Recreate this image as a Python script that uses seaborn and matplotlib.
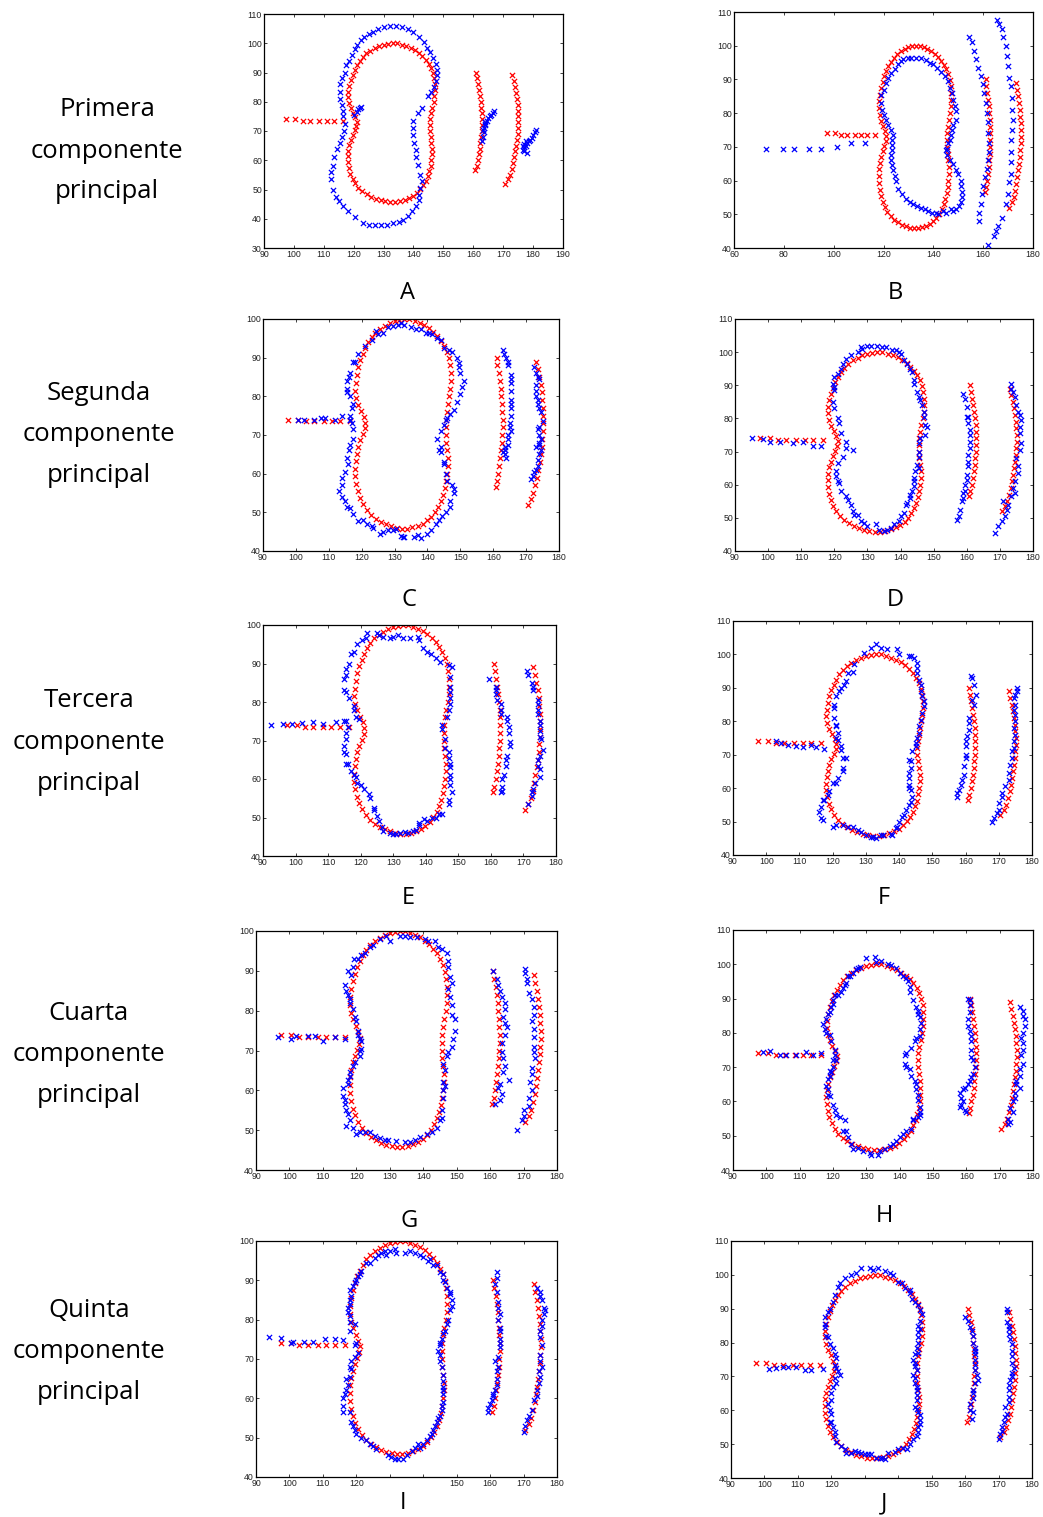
import matplotlib
matplotlib.use('Agg')
import matplotlib.pyplot as plt
import seaborn as sns
import pandas as pd

# ---------------- data ----------------
red_tail = [(97.5, 74), (100.5, 74), (103, 73.5), (105.5, 73.5), (108.5, 73.5), (111, 73.5), (113.5, 73.5), (116.5, 73.5)]

red_kidney = [(134.5, 100), (133, 100), (131.5, 99.8), (130, 99.5), (128.5, 99), (127, 98.3), (125.5, 97.5),
              (124.2, 96.5), (123, 95.3), (122, 94), (121.1, 92.5), (120.3, 91), (119.6, 89.3), (119, 87.5),
              (118.5, 85.5), (118.2, 83.5), (118.1, 81.5), (118.4, 79.5), (119, 77.8), (119.8, 76.2),
              (120.6, 74.7), (121.1, 73.2), (120.9, 71.7), (120.3, 70.2), (119.6, 68.7), (119, 67),
              (118.5, 65.2), (118.2, 63.3), (118, 61.3), (118.1, 59.3), (118.4, 57.3), (118.9, 55.4),
              (119.6, 53.7), (120.5, 52.1), (121.6, 50.6), (122.9, 49.4), (124.3, 48.4), (125.8, 47.6),
              (127.4, 46.9), (129, 46.4), (130.6, 46), (132.2, 45.8), (133.8, 45.8), (135.4, 46.1),
              (137, 46.5), (138.5, 47.1), (139.9, 47.9), (141.2, 48.9), (142.3, 50.1), (143.3, 51.5),
              (144.1, 53), (144.8, 54.6), (145.3, 56.3), (145.7, 58.1), (146, 60), (146.2, 62), (146.2, 64),
              (146, 66), (145.7, 68), (145.5, 70), (145.5, 72), (145.6, 74), (145.9, 76), (146.3, 78),
              (146.7, 80), (147, 82), (147.1, 84), (147.1, 86), (146.9, 88), (146.5, 89.8), (145.9, 91.5),
              (145.1, 93), (144.1, 94.4), (143, 95.6), (141.8, 96.7), (140.5, 97.6), (139.1, 98.4),
              (137.6, 99), (136.1, 99.5)]

red_arc1 = [(161, 90), (161.3, 88), (161.7, 86), (162, 84), (162.3, 82), (162.5, 80), (162.7, 78), (162.8, 76),
            (162.9, 74), (162.9, 72), (162.8, 70), (162.6, 68), (162.4, 66), (162.2, 64), (161.9, 62),
            (161.5, 60), (161.1, 58), (160.7, 56.5)]

red_arc2 = [(173, 89), (173.5, 87), (174, 85), (174.4, 83), (174.7, 81), (174.9, 79), (175, 77), (175.1, 75),
            (175.1, 73), (175, 71), (174.9, 69), (174.7, 67), (174.4, 65), (174.1, 63), (173.7, 61),
            (173.3, 59), (172.8, 57), (172.2, 55), (171.5, 53.5), (170.5, 52)]

blue_A = [(120, 75.5), (121, 76.5), (121.5, 77.5), (122, 78), (122.5, 78.2),
          (141, 44.5), (139.5, 42.5), (138, 41), (136.5, 39.5), (135, 39), (133, 38.5), (131, 38), (129, 38),
          (127, 38), (125, 38), (123, 38.7), (120.5, 40.5), (118, 42.5), (116.5, 44.5), (115, 46), (114, 47.5),
          (113, 50), (112.5, 53.5), (112.5, 56), (113, 58), (113.5, 61), (114.5, 64), (115.5, 66), (116, 68),
          (116.8, 70), (117, 72.5), (116.5, 75), (116.5, 77), (116, 79), (115.5, 81), (115.5, 83.5),
          (115.5, 86), (116, 88), (117, 90), (117.5, 92.5), (118.5, 94), (119.5, 96), (120.5, 98), (121, 99.5),
          (122.5, 101), (123.5, 102), (125, 103), (126.5, 104), (128, 105), (130, 105.5), (132, 106), (134, 106),
          (136, 105.5), (138, 105), (140, 104), (142, 102), (143.5, 100.5), (144.5, 98.5), (145.5, 97),
          (146.5, 95), (147.5, 93), (148, 91), (148, 89), (147.5, 87), (147, 85), (146, 83.5), (145, 82),
          (143, 78), (141.5, 76), (140, 73.5), (139.7, 71), (140, 68.5), (140.3, 66), (140.7, 63.5), (141, 61),
          (141.5, 58.5), (142.3, 55), (143, 53), (142.3, 50.5), (142, 48), (141.8, 46.5),
          (163, 66.5), (163.3, 68), (163.5, 69.5), (163.5, 71), (163.8, 72), (164, 73), (164.5, 73.5),
          (165, 74.5), (165.5, 75), (166, 75.5), (166.5, 76.3), (167, 77), (163.2, 70.5), (164, 72.5),
          (176.5, 63.5), (177, 64.5), (177, 65.5), (177.5, 65), (178, 66), (178.5, 66.5), (179, 67),
          (179.5, 67.5), (180, 68.5), (180.5, 69.5), (181, 70.3), (178, 62.5), (177, 63), (176.5, 65),
          (177.5, 66.5)]

blue_B = [(73, 69.5), (79.5, 69.5), (84, 69.3), (90, 69.5), (95, 69.3), (101.5, 70), (107, 71), (112.5, 71),
          (131, 96.5), (133, 96.3), (135, 96.3), (137, 95.8), (138.5, 95), (140, 94.5), (141.5, 93.5),
          (143, 92.3), (144.5, 91), (146, 89.5), (146.5, 87.5), (147.5, 86), (148, 84), (148.5, 82), (149, 80.5),
          (149, 78), (148, 76.5), (147.5, 75), (147, 73.5), (146.5, 72), (146, 71), (145.5, 69.5), (145, 69),
          (145.5, 67.5), (146.5, 66), (148, 65), (149, 63), (150, 62), (151, 60), (151, 58.5), (151.5, 56.5),
          (151.5, 55), (151, 53.5), (150.5, 52.5), (149, 51.5), (148, 51), (147, 51.5), (145, 50.5), (144, 51),
          (142, 50), (141, 50.5), (139.5, 50.5), (138, 51), (136.5, 51.5), (135, 52), (133.5, 52.5), (132, 53),
          (130.5, 53.5), (129, 54.5), (127.5, 56), (126, 57.5), (125, 60), (124.5, 61.5), (124, 63),
          (123.5, 64.5), (123, 66), (123, 67.5), (123.3, 69), (123.5, 70.5), (123.5, 72), (123.7, 73.5),
          (123, 75), (122, 76.5), (121, 78), (120, 79.5), (119.5, 81), (119, 83), (119, 85.5), (120, 87),
          (121, 89), (122, 90.5), (123, 92), (124.5, 93), (126, 94.5), (127, 95.5), (128, 96), (130, 96.5),
          (154.5, 102.5), (155.5, 101), (156.5, 98.5), (157.3, 96), (158, 93.5), (159, 91), (160, 88.5),
          (160.5, 86), (161, 83), (161.5, 80), (162, 77.5), (162, 74), (162.5, 71), (162.5, 68.5), (162, 66),
          (161.5, 63.5), (160.8, 61), (160, 58.5), (159.5, 56), (159, 53), (158.5, 50.5), (158.3, 48),
          (162, 41), (164.5, 43.5), (165, 45), (166, 46.5), (167.5, 49), (169, 53), (170, 56), (170.5, 59.5),
          (171, 62), (171, 65.5), (171, 68.5), (171.3, 72), (171.5, 75), (171.8, 78), (171.5, 81),
          (171.5, 84.5), (171, 88), (170.5, 90.5), (170, 94), (169.5, 97), (169, 100), (168, 102.5),
          (167.5, 105), (166.5, 106.5), (165.5, 107.5)]

blue_C = [(100.5, 74), (102.5, 74), (105.5, 74), (107.5, 74.3), (109, 74.5), (112, 74), (114, 75), (116.5, 74),
          (132, 99), (133, 98.5), (131, 98.5), (129.5, 98.3), (128, 98), (126.5, 96.5), (125, 96), (124.5, 97),
          (123, 94.5), (121, 93), (119, 91), (118, 89), (117.5, 89), (116.5, 86), (116, 85), (115.5, 84),
          (115.5, 82), (115.5, 81), (116.5, 80), (117.5, 78), (117, 77), (116.5, 75), (116.5, 74), (117, 73),
          (117.5, 71.5), (117.5, 69), (116.5, 67.5), (116, 66), (115.5, 64), (115.7, 62.5), (115, 60.5),
          (114, 59), (114, 57), (113, 55.5), (114, 54), (115, 53), (115.5, 51.5), (116.5, 51), (117.5, 49.5),
          (119, 47.8), (120.5, 48), (121.5, 47), (123, 46.5), (123.5, 46), (125.5, 44.5), (126.5, 45),
          (128, 45.5), (129.5, 45.5), (130.5, 45.7), (132, 44), (132.5, 43.5), (133, 43.5), (136, 43.5),
          (137, 44.2), (138, 43.3), (140, 44.5), (141, 45.5), (142.5, 47), (143.5, 48), (144.5, 49),
          (145.5, 50), (147, 51.5), (147, 53), (148, 55), (148, 56), (147.5, 57), (146, 58), (145.5, 60),
          (145, 62.5), (145, 63), (144, 65.5), (143.5, 66), (144, 67), (143, 69), (144, 71), (145, 72.5),
          (145.5, 74), (146, 74.5), (147, 75.5), (148, 76.5), (149, 78.5), (150, 80.5), (150.5, 82.5),
          (151, 84), (150, 86), (149.5, 87.5), (149.5, 88.5), (149, 90), (147.5, 91.5), (146.5, 92),
          (145, 92.5), (144, 94.5), (143, 95), (141.5, 96), (140.5, 96.5), (139.5, 96.5), (138, 97.5),
          (136.5, 97.5), (135, 98),
          (163, 92), (163.3, 91), (164, 90), (164.5, 89), (164.5, 88), (165.5, 85.5), (165.5, 84.5),
          (165.5, 83.5), (165.5, 81.5), (165.5, 79), (165.5, 78), (165.5, 77), (165.5, 75), (165, 73), (165, 72),
          (165.5, 71), (164.5, 70), (164.5, 69), (164.5, 67.5), (163.5, 67), (163.5, 66), (163.5, 65), (164, 64),
          (163, 65.5),
          (172.5, 87.5), (173, 86), (173.5, 85), (174, 84.5), (173, 83), (173, 81.5), (173, 80), (173.5, 79),
          (173.5, 78), (174, 77), (174.5, 76), (175, 73.5), (174, 72), (173.5, 71.5), (174, 70), (174.5, 69),
          (174, 68), (174.5, 66), (174, 65), (173.5, 63.5), (173.5, 62), (173, 61), (172.5, 60.5), (172, 59.5),
          (171.5, 58.5), (173, 67), (174, 67.5)]

blue_D = [(95, 74), (98.5, 73.8), (100.5, 72.8), (103.5, 72.8), (107.5, 72.5), (110.5, 72.8), (113.5, 71.8),
          (116, 71.8),
          (128, 101.5), (128.5, 101), (130, 102), (131, 102), (133, 102), (134.5, 101.5), (135.5, 101.5),
          (137.5, 100.5), (138.5, 100.5), (139.5, 100), (140, 99.5), (141, 97.5), (142, 96.5), (143, 94.8),
          (143.5, 94), (144, 91.5), (144, 90.5), (145, 88), (145.5, 86.5), (146, 85.5), (146.5, 84), (147, 82),
          (147, 80.5), (147.5, 78), (148, 77.5), (147.5, 75), (146, 74), (145.5, 72.5), (145.5, 70),
          (145.5, 68.5), (145, 66), (145.5, 65), (144.5, 64), (144, 62), (144, 61), (144, 59.5), (143.5, 58),
          (143, 57), (143, 56), (142, 54.5), (141.5, 54), (141, 51.5), (140, 50.5), (139.5, 49), (138, 48),
          (137, 47), (136, 46.3), (135, 46), (133.5, 46.3), (132.5, 48), (130, 47.5), (129, 48.3), (128, 49),
          (127, 51), (126, 51), (125.5, 52), (125, 54), (124, 55.3), (123.5, 56.5), (122, 58), (121.5, 60.5),
          (121, 61), (120.5, 62.5), (120.5, 64), (121, 66.5), (122.5, 68.5), (123.5, 71), (123.5, 73),
          (125.5, 70.5), (122, 75.5), (121.5, 78.5), (121, 80), (120, 83), (119.5, 85), (120, 88.5),
          (120, 89.5), (119.5, 90.5), (120, 92.5), (121, 93.5), (122, 95), (122.5, 96.5), (123.5, 98),
          (125, 99), (127, 100),
          (159, 87.5), (159.5, 86), (160, 83.5), (160, 80.5), (160.5, 80.5), (160.5, 78.5), (161, 76.5),
          (161, 75), (161, 73), (161, 71), (160.5, 69), (160.5, 67), (160.5, 65.5), (160, 63), (160, 61.5),
          (159.5, 60), (159.5, 58), (159, 57.5), (159, 56), (158.5, 55), (158, 52.5), (157.5, 50.5), (157, 49.5),
          (173.5, 90.5), (173.5, 89), (174, 88), (174.5, 86.5), (175, 84), (175.5, 82), (176, 81), (176.5, 79.5),
          (176, 77.5), (176, 75.5), (176.5, 72.5), (176, 70.5), (175, 68), (175.5, 65.5), (175.5, 63.5),
          (174.5, 61), (174.5, 57.5), (173.5, 56.5), (172.5, 54), (172, 52.5), (171.5, 50.5), (170.5, 49),
          (169.5, 47.5), (168.5, 45.5), (171, 55), (174, 59)]

blue_E = [(92.5, 74), (96, 74.3), (99, 74.3), (102, 74.5), (105.5, 74.8), (108.5, 74.3), (112.5, 74.8), (115, 75),
          (115.5, 72), (115.5, 70.5), (115, 68.5), (115, 67), (115.5, 66.5), (115.5, 64), (116, 64), (117, 62),
          (118, 61), (118.5, 60.5), (119, 59), (120, 58.5), (121, 57.5), (122.5, 56), (123, 55), (124, 52.5),
          (124, 52), (125, 50.5), (125.5, 49), (126.5, 47.5), (127, 46.5), (129, 46), (130, 45.8), (131, 45.8),
          (132, 46), (133.5, 46.2), (134.5, 46), (136, 46.5), (137, 46.8), (138, 48), (138, 48.5), (139.5, 49.5),
          (140.5, 49), (142, 50), (143, 50), (144, 51), (145, 51), (147, 53.5), (147, 54.5), (148, 56.5),
          (147.5, 58.5), (147.5, 60), (147.5, 61), (147.5, 63), (147.5, 64), (147, 65.5), (147, 67), (146, 68),
          (146, 70.5), (145, 73), (145, 74), (146.5, 76), (147, 78), (147.5, 79.5), (147.5, 81), (147.5, 82.5),
          (147.5, 84), (147.5, 86.5), (148, 89), (147, 89.5), (144.5, 90.5), (143, 91.5), (141.5, 92.5),
          (140.5, 93), (139, 94), (138, 96), (137.5, 97), (135, 96.5), (133, 96.5), (131.5, 97.5), (130, 97),
          (129, 96.5), (127, 97), (125.5, 97.5), (125, 98), (122, 98), (121.5, 96.5), (120.5, 96), (119, 95),
          (118, 93), (117, 92.5), (116.5, 90), (115.5, 88.5), (115.5, 87), (115, 86), (115, 83), (115.5, 82.5),
          (116.5, 81), (118, 79), (118, 78), (118.5, 76), (119.5, 75.5), (115.5, 75), (116, 73.5),
          (159.5, 86), (161.5, 84), (161.5, 83), (161.5, 82), (162, 80.5), (163, 79.5), (163, 78), (163, 77),
          (165, 76), (165, 75), (165.5, 73.5), (165.5, 72), (166, 69.5), (166, 68.5), (165, 66), (164.5, 65),
          (164.5, 63.5), (164, 61), (163.5, 60), (163.5, 58), (163.5, 57), (163, 56.5),
          (171, 88), (171.5, 87), (172.5, 85), (173, 84), (173, 83), (174.5, 80.5), (174.5, 79.5), (174.5, 78),
          (174.5, 77), (175, 75), (175, 74), (175, 72.5), (175, 71), (175.5, 70.5), (176, 67.5), (175, 66),
          (174.5, 65), (174.5, 63.5), (175, 62.5), (175, 60.5), (173.5, 59), (173, 57.5), (172.5, 56.5),
          (172.5, 55.5), (171.5, 53.5)]

blue_F = [(103, 74), (104.5, 73.5), (106.5, 72.8), (109, 72.5), (111, 72.3), (113.5, 72.8), (115, 72.3),
          (117.5, 71.8),
          (129.5, 100.5), (131.5, 102), (133, 103), (134.5, 102), (136.5, 101.5), (139.5, 101.5), (140, 100),
          (143, 99.5), (143.5, 99.5), (144.5, 99), (145.5, 97.5), (145.5, 96), (145.5, 94.5), (146, 92.5),
          (146.5, 91), (146.5, 89), (147, 87.5), (147.5, 86), (147.5, 84.5), (147, 82.5), (146.5, 80.5),
          (146, 78.5), (146, 76.5), (145.5, 75), (145, 73.5), (145, 72.5), (144, 71), (143, 68.5), (143.5, 68),
          (143.5, 66), (143, 64.5), (143, 63), (143, 61), (143, 60), (143.5, 59.5), (144, 57.5), (143.5, 56),
          (143, 55), (142, 53.5), (141.5, 52), (141, 51.5), (140, 50), (139.5, 48.5), (139, 48), (138, 46),
          (137.5, 46.3), (135, 46), (134.5, 46), (133, 45), (132, 45.3), (131.5, 45.5), (130, 46), (128.5, 47),
          (127.5, 47.5), (126, 48.5), (124.5, 48.5), (123, 49), (121, 49), (120, 48.5), (117, 50.5),
          (116.5, 51), (116, 53), (116.5, 54.5), (117, 56.5), (117.5, 56.5), (118.5, 58), (119, 59),
          (120, 61.5), (121, 61.5), (121.5, 63), (123, 65), (123, 66), (124, 69), (123, 69), (122.5, 71.5),
          (122.5, 72.5), (121.5, 74.5), (121, 75), (121.5, 76.5), (121, 78.5), (121, 79), (120.5, 81),
          (120.5, 84), (120.5, 85), (121, 87.5), (122, 89), (122.5, 90), (123.5, 91), (124, 92), (124.5, 94.5),
          (126, 94.8), (126.5, 97),
          (161.5, 93.5), (162, 93), (162.5, 91), (163, 88), (162, 86.5), (162.5, 85), (161, 81), (161, 79.5),
          (161, 77.5), (160.5, 75.5), (160, 74), (160, 72.5), (160, 70), (160, 69), (159.5, 66.5), (159.5, 64),
          (159, 62.5), (158.5, 61), (158, 59.5), (157.5, 58.5), (157.5, 57.5),
          (175.5, 90), (175.5, 89), (175, 88), (174.5, 87), (175, 85), (174.5, 83.5), (175, 82), (175, 80),
          (174.5, 78), (175, 76), (174.5, 74), (174.5, 72), (174, 71), (174, 69), (173.5, 67), (173, 64.5),
          (173, 62.5), (172, 60.5), (171, 58.5), (171, 57.5), (170, 55.5), (170, 53.5), (169.5, 52.5),
          (168.5, 51), (168, 50)]

blue_G = [(96.5, 73.5), (100.5, 73), (102, 73.7), (105.5, 73.7), (107.5, 73.7), (110, 72.5), (113.5, 73.5),
          (116.5, 73),
          (116.5, 86.5), (117, 85), (117.5, 84), (118, 83), (118, 82), (119, 80.5), (119.5, 78.5), (120, 77.5),
          (120.5, 75), (120.5, 74), (121, 73), (121.5, 72.5), (121.5, 70.5), (121, 70), (121, 68.5), (119.5, 67),
          (119, 66), (118, 64.5), (118, 63.5), (117.5, 62.5), (117.5, 61.5), (116, 60.5), (116, 58.5),
          (116.5, 57.5), (116.5, 56.5), (117, 55), (117.5, 54), (118, 52.5), (117, 51), (119, 50.5), (120, 49),
          (121, 49.5), (122.5, 49.5), (124, 49.5), (125.5, 48.5), (127, 48), (128.5, 47.5), (129.5, 47.5),
          (132, 47.3), (134.5, 47), (136, 47), (137.5, 47.5), (139, 48.3), (141, 49), (142.5, 49.5), (144, 50.5),
          (145, 52.5), (145.5, 53), (145.5, 55), (146, 58), (146, 60), (146.5, 61), (146, 62), (146.5, 65),
          (146, 66.5), (147, 68.5), (147.5, 69.5), (148.5, 71), (149, 73), (149.5, 75), (149.5, 78),
          (148.5, 79), (148.5, 81.5), (148, 83.5), (147.5, 85.5), (148.5, 87), (148, 88.5), (147.5, 91),
          (147.5, 92.5), (147, 94.5), (145.5, 95.5), (144.5, 96), (143.5, 97.5), (141.5, 97.5), (140.5, 98),
          (138, 98.5), (136, 98.5), (134.5, 98.8), (133, 98.8), (130, 97.5), (129, 98.8), (127, 98),
          (125, 96.5), (124, 96), (122.5, 94.5), (121.5, 94), (120.5, 93), (119, 91), (118.5, 89), (117.5, 90),
          (119.3, 93),
          (161, 90), (162, 88), (162.5, 86.5), (163, 85), (163.5, 83.5), (164.5, 82), (164.5, 80.5), (164, 78.5),
          (164.5, 77), (165, 76), (164.5, 74), (163.5, 72), (163.5, 69.5), (164, 68), (164.5, 66), (164, 64.5),
          (165.5, 62.5), (163, 61.5), (163.5, 59), (162.5, 60.5), (163, 57.5), (161.5, 56.5),
          (170.5, 90.5), (170.5, 89.5), (171, 88), (171, 87), (171.5, 84.5), (172.5, 83), (173, 81), (173, 79),
          (172.5, 77.5), (173, 75.5), (173, 73.5), (173, 71), (173, 69.5), (173.5, 68), (172.5, 65.5),
          (172.5, 64), (172, 62), (172.5, 60), (171.5, 58), (171.5, 56), (170, 55), (169.5, 52.5), (170, 53.5),
          (168, 50)]

blue_H = [(99, 74.5), (101, 74.8), (104, 73.5), (106, 73.5), (109, 73.5), (112, 74.3), (114, 73.5), (116.5, 74),
          (117, 82.5), (117.5, 81), (118, 80), (118, 84), (118.5, 85.5), (119, 86), (119.5, 87.5), (120, 88.5),
          (120, 89.5), (120.5, 91), (121.5, 91), (122.5, 92), (123, 93), (123.5, 94), (124, 94.5), (124.5, 96.5),
          (125, 96.5), (126, 97.5), (127, 98.5), (127.5, 99), (128, 99.3), (130, 101.7), (132.5, 102),
          (133, 100.8), (134.5, 101), (136.5, 100), (137.5, 99.8), (139, 99), (140, 97.5), (141, 96.5), (142, 96),
          (142.5, 95), (143, 93.5), (143, 92), (144, 89.5), (145, 87.5), (145.5, 86.5), (145.5, 85.5),
          (146, 84.5), (146.5, 83), (146, 81), (146, 79), (145, 78.5), (144.5, 77.5), (143.5, 75.5), (142, 74),
          (141.5, 73.5), (141.5, 71), (142, 70), (143, 69.5), (143.5, 67.5), (144.5, 66), (145, 65),
          (145, 63.5), (145.5, 62), (145.5, 60.5), (146, 58.5), (146, 57), (146, 56), (145.5, 55.5), (144, 55),
          (144, 54.5), (143.5, 52), (142, 51.5), (141, 50.5), (140, 49.5), (139, 48.5), (138, 47.5), (137, 47),
          (135.5, 46), (134, 45.5), (133.5, 44.5), (131.5, 44.5), (131, 45), (129, 45.5), (127.5, 46.5),
          (126, 46), (125.5, 47.5), (124.5, 49.5), (123, 51.5), (124, 51.5), (123.5, 54.5), (122, 55.5),
          (121, 56), (120.5, 57.5), (120, 59), (119, 61.5), (118.5, 62), (118.5, 63.5), (118, 64.5),
          (118.5, 66.5), (119, 67.5), (119, 69), (119.5, 68.5), (120, 70), (120, 72), (120.5, 73.5), (121, 72),
          (120.5, 75), (119.5, 77.5), (119, 79.5),
          (160.5, 90), (161, 89.5), (161, 88), (161, 86), (160.5, 84), (160.5, 82), (161, 80.5), (161.5, 79),
          (161.5, 77.5), (161.5, 75), (161.5, 73), (162, 72), (162.5, 70), (162, 68), (161.5, 67), (161, 66),
          (160.5, 65), (159.5, 64), (159, 63.5), (158, 62.5), (158.5, 61), (159, 60), (158.5, 59), (158, 58.5),
          (159.5, 57.5), (160, 57),
          (176, 87.5), (177, 86.5), (177, 85), (177.5, 84), (177.5, 82), (177, 80), (176.5, 78.5), (177, 77),
          (177, 75), (176.5, 73.5), (177, 71), (176, 69.5), (176, 67.5), (175, 66), (175, 65), (176, 64),
          (174.5, 62.5), (174.5, 61), (174, 60), (174, 57), (173, 58), (172.5, 55), (173, 54), (172.5, 53.5)]

blue_I = [(94, 75.5), (97.5, 75.3), (100.5, 74), (101, 74.3), (104.5, 74.3), (107, 74.3), (110.5, 75),
          (113.5, 75.2), (116, 74.8),
          (117.5, 82), (117.5, 83), (118, 84), (118, 85), (118.5, 86), (118, 87.5), (119, 88.5), (119.5, 89.5),
          (120, 90), (120.5, 91), (121, 91.5), (121.5, 92.5), (123, 94.5), (124, 94.5), (125.5, 95.7),
          (126.5, 96.5), (127.5, 97), (128.5, 97.5), (129, 96.5), (130, 97.5), (131.5, 98), (132, 97),
          (134.5, 97), (136, 97.5), (137.5, 97), (139, 96.5), (140, 96), (141.5, 95), (142, 95.5), (143, 94),
          (144, 94), (145, 92), (146, 91.5), (146, 90), (146.5, 89.5), (147, 88), (148, 87), (148, 86.5),
          (148.5, 85), (148.5, 83.5), (148, 82.5), (147.5, 80), (147, 79), (146.5, 77), (146, 76.5),
          (145.5, 75), (145, 74), (145, 73.5), (144.5, 72), (145, 71), (145, 69.5), (145.5, 68), (146, 66),
          (146, 64.5), (146, 63), (146, 62), (146, 61), (146, 59), (145.5, 58), (145.5, 57), (145, 55.5),
          (144.5, 55), (144, 54), (143.5, 53), (143, 52), (142.5, 51), (142, 50.5), (141, 49.5), (140, 48.5),
          (139, 47.5), (138.5, 48.5), (137.5, 47.5), (136.5, 46.5), (135, 45.5), (134, 44.5), (132.5, 44.5),
          (131.5, 44.5), (130.5, 45), (129.5, 45.5), (126, 47), (125, 48), (124, 48.5), (123, 49.5),
          (121.5, 50), (120, 51), (119.5, 52), (119, 53), (118.5, 54), (118, 56.5), (116, 56.5), (116, 58),
          (116, 60), (116.5, 61), (117, 62), (117.5, 63.5), (117, 65), (118, 65.5), (118, 68), (118.5, 67.5),
          (118.5, 69.5), (119.5, 70.5), (120.5, 71.5), (120, 74), (119.5, 73.5), (118, 77), (119.5, 79),
          (118, 79.5), (118, 81),
          (162, 92), (162, 90.5), (161.5, 89), (162, 87), (162.5, 84.5), (162.5, 83), (163, 81.5), (162.5, 80),
          (163, 78), (163, 77), (163, 75), (163, 74), (163, 73), (162.5, 70.5), (162.5, 68), (162, 67),
          (162, 65), (162, 63.5), (161.5, 62), (161, 60.5), (160.5, 59.5), (160, 58.5), (159.5, 57.5),
          (159.5, 56.5), (161, 61), (161.5, 69.5),
          (174, 88), (175, 87), (175, 86), (175.5, 85), (176, 83), (176.5, 82.5), (176, 81.5), (175.5, 80),
          (175.5, 78.5), (175, 77), (175, 75.5), (175.5, 73.5), (175, 71), (175, 69.5), (175.5, 68),
          (174.5, 67), (175, 65.5), (174.5, 64), (174, 62), (174, 60.5), (173, 59.5), (172.5, 57), (171.5, 55.5),
          (171, 54.5), (170.5, 53), (170, 51.5)]

blue_J = [(101.5, 72.3), (103.5, 72.5), (105.5, 72.8), (107, 72.8), (109.5, 72.8), (112, 72), (114, 71.8),
          (117.5, 72.3),
          (118, 87.5), (118, 85.5), (118, 84.5), (118.5, 82), (119, 81.5), (119.5, 79.5), (120.5, 78.5),
          (121, 76.5), (121.5, 75.5), (121, 73.5), (121.5, 72.5), (122, 71.5), (122.5, 70.5), (121, 69.5),
          (121.5, 68), (120.5, 67), (120, 65), (120, 63), (119, 62), (119.5, 60), (120, 59), (120, 56.5),
          (119.5, 56.5), (120.5, 55), (121, 53.5), (121, 52.5), (121.5, 50.5), (123, 49.5), (124, 48.5),
          (124.5, 47.5), (126, 47.5), (127, 48), (128, 47.8), (129, 47.5), (130, 47), (131, 47), (132, 47),
          (133.5, 46), (134.5, 46), (135, 46), (136, 45.5), (137, 47.5), (139, 47.8), (140, 48.5), (141.5, 48.8),
          (142.5, 48.5), (143.5, 50), (144.5, 51.5), (145.5, 52.5), (146, 53.5), (146, 55), (146.5, 56),
          (146.5, 57), (146.5, 58.5), (146, 59.5), (145.5, 60.5), (145, 61), (145.5, 63), (145.5, 64.5),
          (145.5, 66), (145.5, 67), (145, 68), (145, 69.5), (144.5, 70.5), (145.5, 72), (145, 73), (145, 74),
          (144.5, 75), (145, 76.5), (146, 77), (145.5, 78.5), (146, 80), (146, 81.5), (146, 83), (146.5, 84),
          (146, 85), (146.5, 86.5), (147, 88.5), (146.5, 89.5), (146, 91), (145, 92), (144, 93), (143.5, 94.5),
          (143.5, 95.5), (142, 96), (141, 97.5), (140, 98), (138.5, 100), (137.5, 100.5), (136, 101), (134, 102),
          (132.5, 101.5), (131.5, 102), (129, 102), (127.5, 100.5), (126, 100), (124, 99), (122.5, 97.5),
          (122, 96.5), (121, 94), (120.5, 92), (119.5, 90), (119, 89),
          (160, 87.5), (161, 86.5), (161.5, 84.5), (162, 83.5), (162.5, 82), (162.5, 80), (163, 78.5),
          (163, 77.5), (163, 76.5), (163, 75), (163, 73.5), (163, 72), (163.5, 70.5), (164, 69), (163, 68),
          (162.5, 66), (162.5, 65), (162.5, 63.5), (161.5, 62), (161.5, 60), (162.5, 59.5), (162, 57.5),
          (172.5, 90), (172.5, 89), (172.5, 86), (173, 85), (173, 84), (173, 82.5), (173.5, 81), (174, 79.5),
          (174, 77.5), (174, 76), (174, 74), (174.5, 72.5), (174, 71), (174, 70), (173.5, 69), (173, 67.5),
          (173, 66), (173, 64), (173, 62.5), (172, 61), (172.5, 59), (172, 58), (171.5, 56.5), (171, 55),
          (171, 54), (170.5, 53), (170, 51.5)]

panel_letters = ['A', 'B', 'C', 'D', 'E', 'F', 'G', 'H', 'I', 'J']
blue_sets = [blue_A, blue_B, blue_C, blue_D, blue_E, blue_F, blue_G, blue_H, blue_I, blue_J]
x_limits = [(90, 190), (60, 180), (90, 180), (90, 180), (90, 180), (90, 180), (90, 180), (90, 180), (90, 180), (90, 180)]
y_limits = [(30, 110), (40, 110), (40, 100), (40, 110), (40, 100), (40, 110), (40, 100), (40, 110), (40, 100), (40, 110)]
x_steps = [10, 20, 10, 10, 10, 10, 10, 10, 10, 10]
row_labels = [["Primera", "componente", "principal"],
              ["Segunda", "componente", "principal"],
              ["Tercera", "componente", "principal"],
              ["Cuarta", "componente", "principal"],
              ["Quinta", "componente", "principal"]]

# ---------------- layout (pixels) ----------------
W, H = 1043, 1517
boxes = [(264, 14, 563, 248), (734, 12, 1033, 248),
         (263, 319, 559, 551), (735, 319, 1033, 551),
         (263, 625, 556, 856), (733, 621, 1032, 855),
         (256, 931, 557, 1170), (733, 930, 1033, 1170),
         (256, 1241, 557, 1477), (731, 1241, 1032, 1478)]
letter_pos = [(408, 299), (895, 299), (409, 606), (895, 606), (408, 904), (884, 904),
              (409, 1227), (884, 1222), (403, 1509), (884, 1509)]
row_label_pos = [(107, [116, 157.5, 198.5]), (99, [400, 441, 482]), (89, [707, 749, 790]),
                 (89, [1020, 1061, 1102]), (89, [1317, 1358, 1399])]
hidden_xticks = {'I': [130, 140], 'J': [130, 140]}

sns.set_theme(style='white')
plt.rcParams['font.family'] = ['Liberation Sans', 'DejaVu Sans']

fig = plt.figure(figsize=(W / 100, H / 100), dpi=100)
fig.patch.set_facecolor('white')


def to_df(pts):
    return pd.DataFrame(pts, columns=['x', 'y'])


red_all = to_df(red_tail + red_kidney + red_arc1 + red_arc2)

for i, letter in enumerate(panel_letters):
    l, t, r, b = boxes[i]
    ax = fig.add_axes([l / W, 1 - b / H, (r - l) / W, (b - t) / H])
    sns.scatterplot(data=red_all, x='x', y='y', ax=ax, marker='x', color='#ff0000',
                    s=14, linewidth=0.9, legend=False, zorder=2)
    sns.scatterplot(data=to_df(blue_sets[i]), x='x', y='y', ax=ax, marker='x', color='#0000ff',
                    s=14, linewidth=0.9, legend=False, zorder=3)
    x0, x1 = x_limits[i]
    y0, y1 = y_limits[i]
    ax.set_xlim(x0, x1)
    ax.set_ylim(y0, y1)
    xt = list(range(x0, x1 + 1, x_steps[i]))
    yt = list(range(y0, y1 + 1, 10))
    ax.set_xticks(xt)
    ax.set_yticks(yt)
    hid = hidden_xticks.get(letter, [])
    ax.set_xticklabels(['' if v in hid else str(v) for v in xt])
    ax.set_yticklabels([str(v) for v in yt])
    ax.set_xlabel('')
    ax.set_ylabel('')
    ax.tick_params(direction='in', top=True, right=True, bottom=True, left=True,
                   length=2.5, width=0.6, labelsize=6.3, pad=1.5, colors='#222222')
    for sp in ax.spines.values():
        sp.set_visible(True)
        sp.set_color('black')
        sp.set_linewidth(0.9)
    ax.set_facecolor('white')
    ax.grid(False)
    lx, ly = letter_pos[i]
    fig.text(lx / W, 1 - ly / H, letter, ha='center', va='baseline', fontsize=17,
             family=['Open Sans', 'DejaVu Sans'], color='black')

for (cx, ys), lines in zip(row_label_pos, row_labels):
    for yb, txt in zip(ys, lines):
        fig.text(cx / W, 1 - yb / H, txt, ha='center', va='baseline', fontsize=18.5,
                 family=['Open Sans', 'DejaVu Sans'], color='black')

fig.savefig('out.png', dpi=100, facecolor='white')
